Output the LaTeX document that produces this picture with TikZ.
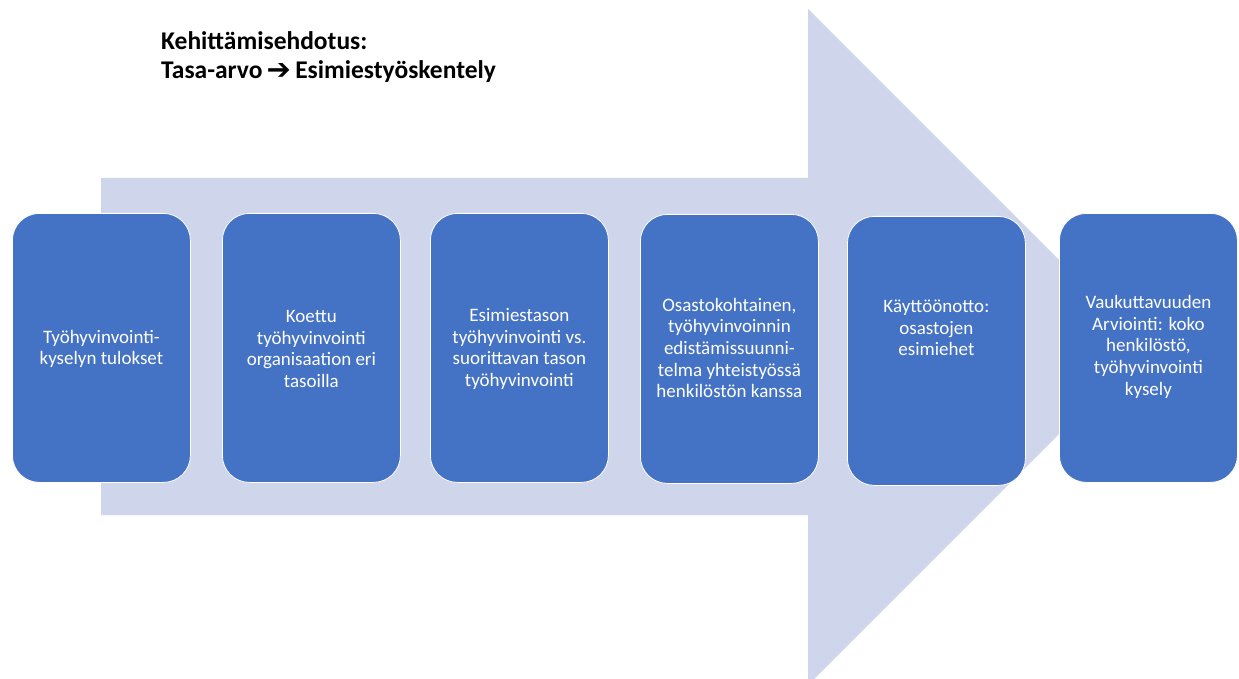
\documentclass[tikz,border=0pt]{standalone}
\usepackage{fontspec}
\setmainfont{Carlito}
\newfontfamily\symfont{DejaVu Sans}
\definecolor{boxblue}{HTML}{4472C4}
\definecolor{arrowfill}{HTML}{CFD5EA}
\tikzset{
  stage/.style={draw=white, line width=0.8pt, fill=boxblue, rounded corners=27pt,
    minimum width=178pt, minimum height=269pt, anchor=north west, inner sep=0pt},
  stagetext/.style={text=white, align=center, font=\fontsize{19}{21.7}\selectfont, inner sep=0pt},
}
\begin{document}
\begin{tikzpicture}[x=1pt, y=-1pt]
  \useasboundingbox (0,0) rectangle (1239,679);
  \fill[white] (0,0) rectangle (1239,679);
  \begin{scope}
    \clip (0,0) rectangle (1239,679);
    % big background arrow
    \fill[arrowfill] (101,178) -- (808,178) -- (808,9) -- (1146,347)
      -- (808,685) -- (808,515) -- (101,515) -- cycle;
  \end{scope}

  % heading (anchored at the baseline of its last line)
  \node[anchor=base west, align=left, inner sep=0pt,
        font=\fontsize{25.5}{29}\selectfont\bfseries] (title) at (161,79)
    {Kehittämisehdotus:\\Tasa-arvo\,{\symfont\fontsize{29}{29}\selectfont\raisebox{-0.5pt}{➔}}\,Esimiestyöskentely};

  % stages
  \node[stage] (b1) at (12,213) {};
  \node[stage] (b2) at (222,213) {};
  \node[stage] (b3) at (430,213) {};
  \node[stage] (b4) at (640,214) {};
  \node[stage] (b5) at (847,216) {};
  \node[stage] (b6) at (1059,213) {};

  \node[stagetext] (t1) at ([yshift=-1pt]b1.center) {Työhyvinvointi-\\kyselyn tulokset};
  \node[stagetext] (t2) at ([yshift=-1pt]b2.center) {Koettu\\työhyvinvointi\\organisaation eri\\tasoilla};
  \node[stagetext] (t3) at ([yshift=-1pt]b3.center) {Esimiestason\\työhyvinvointi vs.\\suorittavan tason\\työhyvinvointi};
  \node[stagetext] (t4) at ([yshift=1pt]b4.center) {Osastokohtainen,\\työhyvinvoinnin\\edistämissuunni-\\telma yhteistyössä\\henkilöstön kanssa};
  \node[stagetext] (t5) at ([yshift=23pt]b5.center) {Käyttöönotto:\\osastojen\\esimiehet};
  \node[stagetext] (t6) at ([yshift=1pt]b6.center) {Vaukuttavuuden\\Arviointi: koko\\henkilöstö,\\työhyvinvointi\\kysely};
\end{tikzpicture}
\end{document}
